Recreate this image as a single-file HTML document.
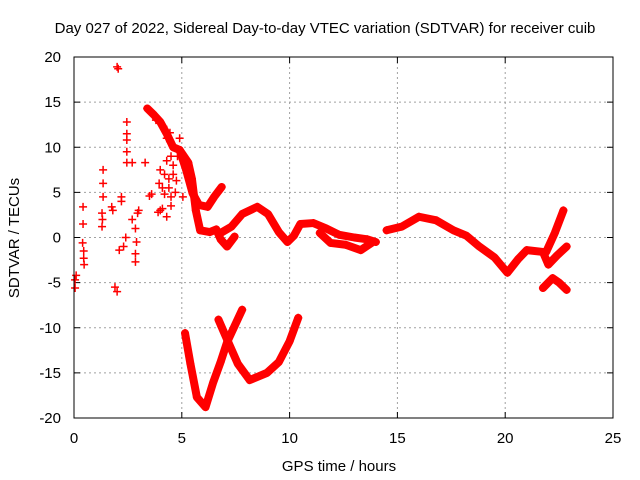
<!DOCTYPE html>
<html><head><meta charset="utf-8"><style>
body{margin:0;background:#fff;}
svg{display:block;font-family:"Liberation Sans",sans-serif;}
</style></head><body>
<svg id="chart" width="640" height="480" viewBox="0 0 640 480">
<text x="325" y="33" font-size="15" text-anchor="middle">Day 027 of 2022, Sidereal Day-to-day VTEC variation (SDTVAR) for receiver cuib</text>
<text x="339" y="471" font-size="15" text-anchor="middle">GPS time / hours</text>
<text transform="translate(19,238) rotate(-90)" font-size="15" text-anchor="middle">SDTVAR / TECUs</text>
<g id="grid"></g><g id="ticks"></g><g id="marks"></g>
<rect x="74" y="57" width="539" height="361" fill="none" stroke="#000" stroke-width="1"/>
</svg>
<script>
const xTicks=[0,5,10,15,20,25];
const yTicks=[20,15,10,5,0,-5,-10,-15,-20];
const tracksUpper=[[4.9,9.7],[5.3,8.3],[5.47,6.5],[5.65,3.0],[5.85,0.8],[6.3,0.6],[6.6,0.9],[6.8,-0.2],[7.1,-1.0],[7.45,0.1]];
const tracksLobe=[[4.9,9.7],[5.2,7.5],[5.5,4.9],[5.8,3.6],[6.2,3.4],[6.5,4.5],[6.85,5.6]];
const trackMain=[[6.8,0.5],[7.3,1.2],[7.8,2.6],[8.5,3.4],[9.0,2.6],[9.5,0.6],[9.9,-0.5],[10.2,0.2],[10.5,1.5],[11.1,1.6],[11.7,1.0],[12.3,0.3],[13.0,0.0],[13.6,-0.2],[14.0,-0.5]];
const trackMainLow=[[11.4,0.5],[11.9,-0.6],[12.6,-0.8],[13.3,-1.4],[13.8,-0.6]];
const trackEast=[[14.5,0.8],[15.2,1.2],[16.0,2.3],[16.8,1.9],[17.6,0.8],[18.2,0.2],[18.8,-1.0],[19.5,-2.2],[20.1,-3.9],[20.6,-2.4],[21.0,-1.4],[21.75,-1.6],[22.0,-3.0],[22.4,-2.0],[22.85,-1.0]];
const trackRise=[[21.9,-1.6],[22.3,0.5],[22.7,3.0]];
const trackArc=[[21.75,-5.6],[22.2,-4.5],[22.5,-5.0],[22.85,-5.8]];
const trackV1=[[5.15,-10.6],[5.4,-14.0],[5.7,-17.7],[6.1,-18.8],[6.45,-16.1],[6.8,-13.8],[7.1,-11.6],[7.8,-8.0]];
const trackV2=[[6.7,-9.1],[7.1,-11.3],[7.6,-14.0],[8.15,-15.8],[8.95,-15.0],[9.5,-13.8],[10.0,-11.5],[10.4,-8.9]];
const trackCluster=[[3.4,14.3],[3.7,13.6],[4.0,12.8],[4.3,11.5],[4.6,10.0],[4.9,9.7]];
const scatter=[[0.05,-4.7],[0.05,-5.6],[0.1,-4.2],[0.42,3.4],[0.42,1.5],[0.4,-0.6],[0.45,-1.5],[0.47,-3.0],[0.45,-2.3],[1.35,7.5],[1.35,6.0],[1.35,4.5],[1.3,2.7],[1.3,1.2],[1.32,2.0],[1.75,3.4],[1.8,3.0],[1.9,-5.5],[2.0,-6.0],[2.05,18.7],[2.0,18.9],[2.45,12.8],[2.45,11.5],[2.45,10.8],[2.45,9.5],[2.45,8.3],[2.7,8.3],[2.2,4.5],[2.2,4.0],[2.1,-1.4],[2.3,-1.0],[2.4,0.0],[2.7,2.0],[2.85,1.0],[2.9,-0.5],[2.85,-1.8],[2.85,-2.7],[2.95,2.7],[3.0,3.0],[3.3,8.3],[3.6,4.8],[3.5,4.6],[4.0,7.5],[4.0,3.0],[4.3,2.3],[4.2,4.8],[4.4,5.5],[4.75,6.3],[4.6,10.0],[4.45,11.6],[4.15,12.3],[3.65,13.8],[3.4,14.3],[3.55,14.0],[3.8,13.0],[4.0,12.8],[4.3,11.0],[4.6,8.0],[4.2,7.0],[4.1,5.5],[4.5,3.5],[5.05,4.5],[4.8,9.0],[4.9,11.0],[4.5,9.0],[3.9,2.8],[4.7,5.0],[4.4,6.5],[4.6,7.0],[4.3,8.5],[4.5,4.5],[4.1,3.2],[3.95,6.0]];
const X=t=>74+t*539/25, Y=v=>237.5-v*361/40;
const NS="http://www.w3.org/2000/svg";
const g=document.getElementById('grid'),tk=document.getElementById('ticks'),mk=document.getElementById('marks');
function mkEl(tag,attrs,parent){const e=document.createElementNS(NS,tag);for(const k in attrs)e.setAttribute(k,attrs[k]);parent.appendChild(e);return e;}
xTicks.forEach(t=>{const x=X(t);
 if(t>0&&t<25){const l=mkEl('line',{x1:x,y1:57,x2:x,y2:418,stroke:'#a0a0a0','stroke-dasharray':'2,3'},g);}
 mkEl('line',{x1:x,y1:418,x2:x,y2:412,stroke:'#000'},tk);mkEl('line',{x1:x,y1:57,x2:x,y2:63,stroke:'#000'},tk);
 const s=mkEl('text',{x:x,y:443,'font-size':15,'text-anchor':'middle'},tk);s.textContent=t;
 });
yTicks.forEach(v=>{const y=Y(v);
 if(v>-20&&v<20){const l=mkEl('line',{x1:74,y1:y,x2:613,y2:y,stroke:'#a0a0a0','stroke-dasharray':'2,3'},g);}
 mkEl('line',{x1:74,y1:y,x2:80,y2:y,stroke:'#000'},tk);mkEl('line',{x1:613,y1:y,x2:607,y2:y,stroke:'#000'},tk);
 const s=mkEl('text',{x:61,y:y+5,'font-size':15,'text-anchor':'end'},tk);s.textContent=v;
 });
function plus(t,v){const x=X(t),y=Y(v);const p=mkEl('path',{d:`M${x-4},${y}h8M${x},${y-4}v8`,stroke:'#f00','stroke-width':1.5},mk);
 }
[tracksUpper,tracksLobe,trackMain,trackMainLow,trackEast,trackRise,trackArc,trackV1,trackV2,trackCluster].forEach(tr=>{
 const pl=mkEl('polyline',{points:tr.map(p=>X(p[0])+','+Y(p[1])).join(' '),fill:'none',stroke:'#f00','stroke-width':8,'stroke-linejoin':'round','stroke-linecap':'round'},mk);
 
 tr.forEach(p=>plus(p[0],p[1]));});
scatter.forEach(p=>plus(p[0],p[1]));
</script>
</body></html>
